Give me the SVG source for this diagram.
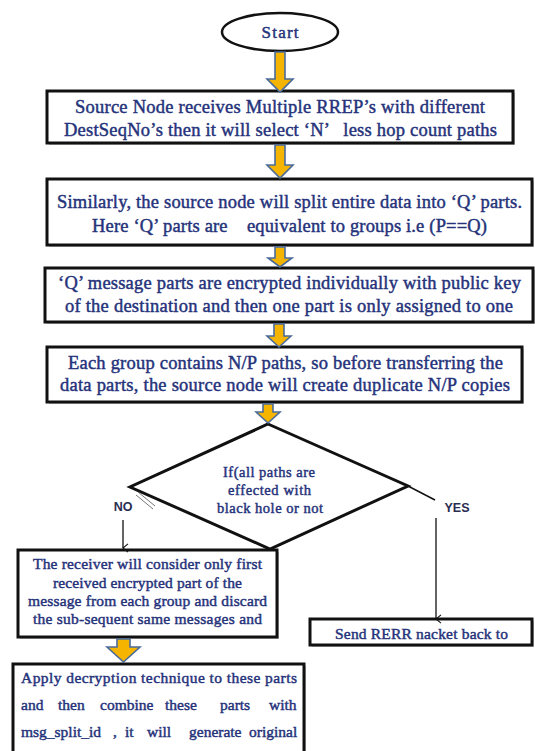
<svg xmlns="http://www.w3.org/2000/svg" width="535" height="751" viewBox="0 0 535 751">
<defs>
<style>
.box{fill:#fff;stroke:#111;stroke-width:3}
.shadow{fill:#9a9a9a;opacity:0.55}
.t{font-family:'Liberation Serif','Times New Roman',serif;fill:#25327a;stroke:#25327a;stroke-width:0.45;text-anchor:middle;white-space:pre}
.t18{font-size:18.5px}
.t15{font-size:15.5px}
.dt{font-size:14.5px}
.ts{text-anchor:start}
.lbl{font-family:'Liberation Sans',Arial,sans-serif;font-weight:bold;font-size:12.5px;fill:#2a2d52;text-anchor:middle}
.barrow{fill:#f5b400;stroke:#4a6b9a;stroke-width:1.6;stroke-linejoin:miter}
.ln{fill:none;stroke:#111;stroke-width:1.3}
</style>
<marker id="chev" viewBox="0 0 12 12" refX="6" refY="11" markerWidth="10" markerHeight="10" markerUnits="userSpaceOnUse" orient="auto-start-reverse">
<path d="M1,5 L6,11 L11,5" fill="none" stroke="#111" stroke-width="1.3"/>
</marker>
</defs>
<rect width="535" height="751" fill="#fff"/>

<g id="start">
<ellipse cx="280" cy="32" rx="58" ry="19" fill="#fff" stroke="#111" stroke-width="2.5"/>
<text class="t" x="280" y="38" font-size="17" textLength="37" lengthAdjust="spacing">Start</text>
</g>

<g id="box1">
<rect class="shadow" x="49" y="93" width="466" height="52"/>
<rect class="box" x="47" y="91" width="466" height="52"/>
<text class="t t18" x="280" y="113" textLength="410" lengthAdjust="spacing">Source Node receives Multiple RREP’s with different</text>
<text class="t t18" x="280.5" y="136" textLength="433" lengthAdjust="spacing" xml:space="preserve">DestSeqNo’s then it will select ‘N’   less hop count paths</text>
</g>

<g id="box2">
<rect class="shadow" x="49" y="181" width="485" height="66"/>
<rect class="box" x="47" y="179" width="485" height="66"/>
<text class="t t18" x="289.5" y="208" textLength="465" lengthAdjust="spacing">Similarly, the source node will split entire data into ‘Q’ parts.</text>
<text class="t t18" x="289.5" y="232" textLength="395" lengthAdjust="spacing" xml:space="preserve">Here ‘Q’ parts are    equivalent to groups i.e (P==Q)</text>
</g>

<g id="box3">
<rect class="shadow" x="47" y="270" width="488" height="54"/>
<rect class="box" x="45" y="268" width="488" height="54"/>
<text class="t t18" x="289.5" y="289" textLength="463" lengthAdjust="spacing">‘Q’ message parts are encrypted individually with public key</text>
<text class="t t18" x="289" y="312" textLength="448" lengthAdjust="spacing">of the destination and then one part is only assigned to one</text>
</g>

<g id="box4">
<rect class="shadow" x="49" y="349" width="475" height="55"/>
<rect class="box" x="47" y="347" width="475" height="55"/>
<text class="t t18" x="285.5" y="369" textLength="435" lengthAdjust="spacing">Each group contains N/P paths, so before transferring the</text>
<text class="t t18" x="285" y="391" textLength="450" lengthAdjust="spacing">data parts, the source node will create duplicate N/P copies</text>
</g>

<g id="decision">
<polygon points="268,424 408,486 270,549 130,487" fill="#fff" stroke="#111" stroke-width="3" stroke-linejoin="miter"/>
<text class="t dt" x="269" y="477" textLength="92" lengthAdjust="spacing">If(all paths are</text>
<text class="t dt" x="269.5" y="495" textLength="83" lengthAdjust="spacing">effected with</text>
<text class="t dt" x="270" y="513" textLength="106" lengthAdjust="spacing">black hole or not</text>
</g>

<g id="receiver">
<rect class="shadow" x="20" y="552" width="259" height="87"/>
<rect class="box" x="18" y="550" width="259" height="87"/>
<text class="t t15" x="147.5" y="569" textLength="229" lengthAdjust="spacing">The receiver will consider only first</text>
<text class="t t15" x="147.5" y="588" textLength="189" lengthAdjust="spacing">received encrypted part of the</text>
<text class="t t15" x="147.5" y="606" textLength="239" lengthAdjust="spacing">message from each group and discard</text>
<text class="t t15" x="147.5" y="624" textLength="229" lengthAdjust="spacing">the sub-sequent same messages and</text>
</g>

<g id="rerr">
<rect class="shadow" x="312" y="621" width="222" height="26"/>
<rect class="box" x="310" y="619" width="222" height="26"/>
<text class="t t15" x="421.5" y="639" textLength="173" lengthAdjust="spacing">Send RERR nacket back to</text>
</g>

<g id="apply">
<rect class="shadow" x="15" y="666" width="291" height="100"/>
<rect class="box" x="13" y="664" width="291" height="100"/>
<text class="t ts" font-size="15.5" x="21" y="683" textLength="276" lengthAdjust="spacing">Apply decryption technique to these parts</text>
<text class="t ts" font-size="15.5" y="710"><tspan x="21">and</tspan><tspan x="58">then</tspan><tspan x="100">combine</tspan><tspan x="165">these</tspan><tspan x="220">parts</tspan><tspan x="269">with</tspan></text>
<text class="t ts" font-size="15.5" y="737"><tspan x="21">msg_split_id</tspan><tspan x="113">,</tspan><tspan x="125">it</tspan><tspan x="147">will</tspan><tspan x="189">generate</tspan><tspan x="249">original</tspan></text>
</g>

<g id="connectors">
<path class="barrow" d="M275,52 L285,52 L285,79 L293,79 L280,92 L267,79 L275,79 Z"/>
<path class="barrow" d="M275,145 L285,145 L285,165 L293,165 L280,178 L267,165 L275,165 Z"/>
<path class="barrow" d="M275,247 L285,247 L285,258 L292,258 L280,267 L268,258 L275,258 Z"/>
<path class="barrow" d="M274,324 L284,324 L284,336 L291,336 L279,347 L267,336 L274,336 Z"/>
<path class="barrow" d="M263,404 L273,404 L273,412 L280,412 L268,423 L256,412 L263,412 Z"/>
<path class="barrow" d="M117,639 L130,639 L130,647 L140,647 L123.5,662 L107,647 L117,647 Z"/>
<line x1="408" y1="486" x2="435" y2="500" stroke="#111" stroke-width="1.5"/>
<line x1="138" y1="492" x2="155" y2="506" stroke="#777" stroke-width="1"/>
<line x1="136" y1="495" x2="153" y2="509" stroke="#777" stroke-width="1"/>
<text class="lbl" x="123" y="511">NO</text>
<text class="lbl" x="457" y="512">YES</text>
<line class="ln" x1="123" y1="520" x2="123" y2="548" marker-end="url(#chev)"/>
<line class="ln" x1="436" y1="518" x2="436" y2="619" marker-end="url(#chev)"/>
</g>
</svg>
